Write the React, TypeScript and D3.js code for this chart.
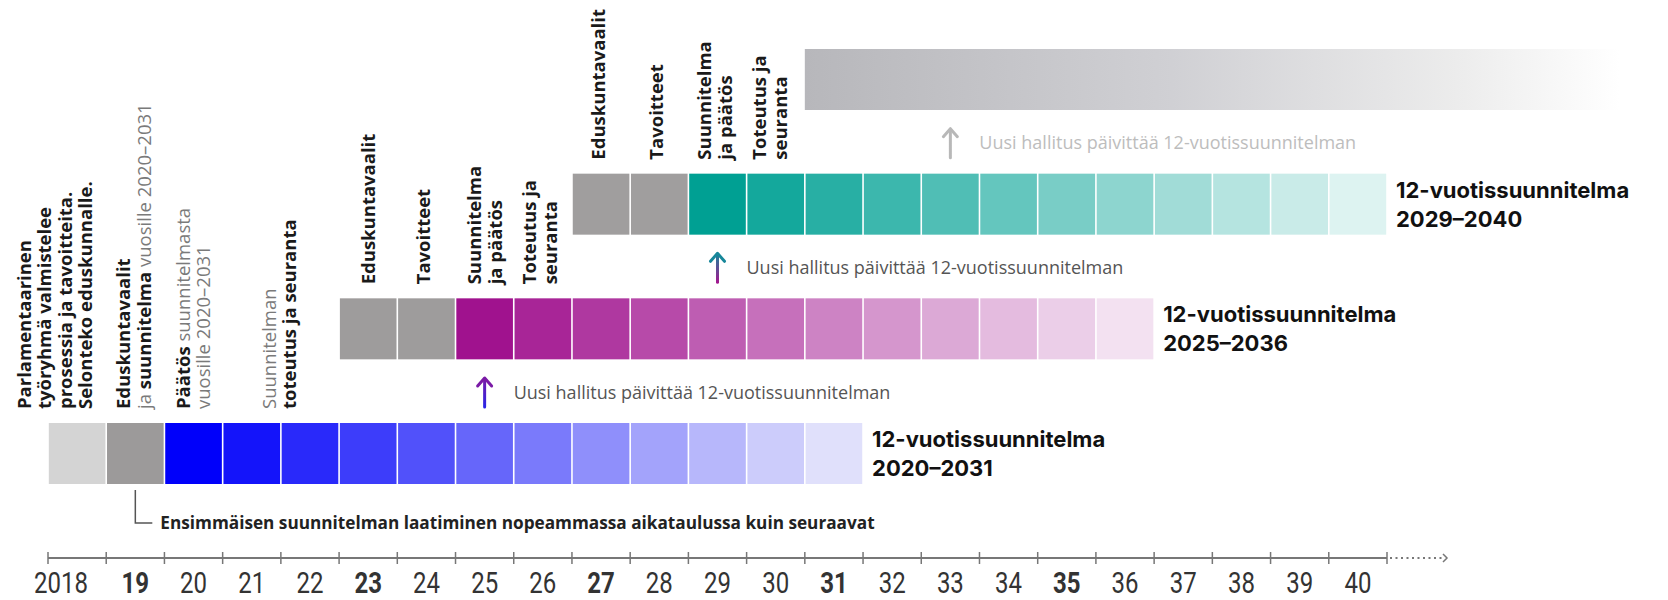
import React from "react";
import * as d3 from "d3";

// ---------- data ----------
const yearLabels = ["2018","19","20","21","22","23","24","25","26","27","28","29","30","31","32","33","34","35","36","37","38","39","40"];
const boldYearLabels = ["19","23","27","31","35"];
const firstYear = 2018;
const lastAxisYear = 2041;

const planTitles = ["12-vuotissuunnitelma","12-vuotissuunnitelma","12-vuotissuunnitelma"];
const planPeriods = ["2020–2031","2025–2036","2029–2040"];
const planPrepYears = [[2018,2019],[2023,2024],[2027,2028]];
const planStartYears = [2020,2025,2029];
const planLengths = [12,12,12];

const futureStartYear = 2031;
const futureEndYear = 2045;

const updateYears = [2025, 2029, 2033];
const updateText = "Uusi hallitus päivittää 12-vuotissuunnitelman";
const noteYear = 2019.5;
const noteText = "Ensimmäisen suunnitelman laatiminen nopeammassa aikataulussa kuin seuraavat";

// segments: [text, bold]
type Seg = [string, boolean];
const phaseLabels: { row: number; year: number; lines: Seg[][] }[] = [
  { row: 0, year: 2018.12, lines: [
    [["Parlamentaarinen", true]],
    [["työryhmä valmistelee", true]],
    [["prosessia ja tavoitteita.", true]],
    [["Selonteko eduskunnalle.", true]],
  ]},
  { row: 0, year: 2019.47, lines: [
    [["Eduskuntavaalit", true]],
    [["ja ", false], ["suunnitelma", true], [" vuosille 2020–2031", false]],
  ]},
  { row: 0, year: 2020.5, lines: [
    [["Päätös", true], [" suunnitelmasta", false]],
    [["vuosille 2020–2031", false]],
  ]},
  { row: 0, year: 2021.97, lines: [
    [["Suunnitelman", false]],
    [["toteutus ja seuranta", true]],
  ]},
  { row: 1, year: 2023.5, lines: [[["Eduskuntavaalit", true]]] },
  { row: 1, year: 2024.45, lines: [[["Tavoitteet", true]]] },
  { row: 1, year: 2025.5, lines: [[["Suunnitelma", true]], [["ja päätös", true]]] },
  { row: 1, year: 2026.45, lines: [[["Toteutus ja", true]], [["seuranta", true]]] },
  { row: 2, year: 2027.45, lines: [[["Eduskuntavaalit", true]]] },
  { row: 2, year: 2028.45, lines: [[["Tavoitteet", true]]] },
  { row: 2, year: 2029.45, lines: [[["Suunnitelma", true]], [["ja päätös", true]]] },
  { row: 2, year: 2030.4, lines: [[["Toteutus ja", true]], [["seuranta", true]]] },
];

// ---------- styles ----------
const prepColors = [["#d4d4d4", "#9c9a9a"], ["#9e9c9c", "#9e9c9c"], ["#a09e9e", "#a09e9e"]];
const planColorRanges = [["#0000fa", "#e0e0fb"], ["#a0128e", "#f3e1f1"], ["#00a093", "#ddf3f1"]];
const arrowColors = [["#7a1aa6", "#2a24e6"], ["#17879a", "#a2178f"], ["#b8b8b8", "#b8b8b8"]];
const arrowTextColors = ["#555", "#555", "#bdbdbd"];

const W = 1668, H = 600;
const LABEL_FONT = "'Open Sans', 'DejaVu Sans', sans-serif";

export default function App() {
  const x = d3.scaleLinear().domain([firstYear, lastAxisYear]).range([48, 1387]);
  const rowY = d3.scaleLinear().domain([0, 3]).range([423, 49]);
  const barH = 61;
  const axisY = 558;
  const step = x(firstYear + 1) - x(firstYear);

  const ticks = d3.range(firstYear, lastAxisYear + 1);

  return (
    <svg width={W} height={H} style={{ position: "absolute", left: 0, top: 0, background: "#fff" }}>
      <defs>
        <linearGradient id="fade" x1="0" x2="1" y1="0" y2="0">
          <stop offset="0%" stopColor="#b7b7bb" />
          <stop offset="45%" stopColor="#d0d0d4" />
          <stop offset="80%" stopColor="#ececec" />
          <stop offset="100%" stopColor="#ffffff" />
        </linearGradient>
        {updateYears.map((yr, i) => {
          const bottom = rowY(i) - 16;
          const top = bottom - 29;
          return (
            <linearGradient key={i} id={`arr${i}`} gradientUnits="userSpaceOnUse" x1="0" x2="0" y1={top} y2={bottom}>
              <stop offset="0%" stopColor={arrowColors[i][0]} />
              <stop offset="100%" stopColor={arrowColors[i][1]} />
            </linearGradient>
          );
        })}
      </defs>

      {/* future gradient bar */}
      <rect x={x(futureStartYear)} y={rowY(3)} width={x(futureEndYear) - x(futureStartYear)} height={barH} fill="url(#fade)" />

      {/* plan rows */}
      {planStartYears.map((start, p) => {
        const top = rowY(p);
        const color = d3.interpolateRgb(planColorRanges[p][0], planColorRanges[p][1]);
        const planYears = d3.range(start, start + planLengths[p]);
        const endX = x(start + planLengths[p]);
        return (
          <g key={p}>
            {planPrepYears[p].map((yr, k) => (
              <rect key={"p" + k} x={x(yr) + 0.8} y={top} width={step - 1.6} height={barH} fill={prepColors[p][k]} />
            ))}
            {planYears.map((yr, k) => (
              <rect key={k} x={x(yr) + 0.8} y={top} width={step - 1.6} height={barH} fill={color(k / (planLengths[p] - 1))} />
            ))}
            <text x={endX + 9} y={top + 24} fontFamily="Inter, 'Open Sans', sans-serif" fontWeight={700} fontSize={22} fill="#111">{planTitles[p]}</text>
            <text x={endX + 9} y={top + 53} fontFamily="Inter, 'Open Sans', sans-serif" fontWeight={700} fontSize={22} fill="#111">{planPeriods[p]}</text>
          </g>
        );
      })}

      {/* vertical phase labels */}
      {phaseLabels.map((lab, i) => {
        const bottom = rowY(lab.row) - 14;
        const cx = x(lab.year);
        const n = lab.lines.length;
        const lh = 20.5;
        return (
          <g key={i} transform={`translate(${cx},${bottom}) rotate(-90)`}>
            {lab.lines.map((line, li) => (
              <text key={li} x={0} y={(li - (n - 1) / 2) * lh} dy="0.36em" fontFamily={LABEL_FONT} fontSize={18.5}>
                {line.map((seg, si) => (
                  <tspan key={si} fontWeight={seg[1] ? 700 : 400} fill={seg[1] ? "#1a1a1a" : "#7a7a7a"}>{seg[0]}</tspan>
                ))}
              </text>
            ))}
          </g>
        );
      })}

      {/* update arrows */}
      {updateYears.map((yr, i) => {
        const bottom = rowY(i) - 16;
        const top = bottom - 29;
        const cx = x(yr + 0.5);
        return (
          <g key={i}>
            <path d={`M${cx},${bottom} V${top + 1}`} stroke={`url(#arr${i})`} strokeWidth={3} fill="none" strokeLinecap="round" />
            <path d={`M${cx - 7},${top + 8} L${cx},${top} L${cx + 7},${top + 8}`} stroke={arrowColors[i][0]} strokeWidth={3} fill="none" strokeLinecap="round" strokeLinejoin="round" />
            <text x={cx + 29} y={(top + bottom) / 2 + 6} fontFamily={LABEL_FONT} fontSize={18} fill={arrowTextColors[i]}>{updateText}</text>
          </g>
        );
      })}

      {/* note bracket */}
      <path d={`M${x(noteYear)},${rowY(0) + barH + 6} V${523} H${x(noteYear) + 17}`} stroke="#555" strokeWidth={1.5} fill="none" />
      <text x={x(noteYear) + 25} y={529} fontFamily={LABEL_FONT} fontWeight={700} fontSize={17.2} fill="#222">{noteText}</text>

      {/* axis */}
      <line x1={x(firstYear)} x2={x(lastAxisYear)} y1={axisY} y2={axisY} stroke="#777" strokeWidth={2} />
      {ticks.map((t) => (
        <line key={t} x1={x(t)} x2={x(t)} y1={axisY - 6} y2={axisY + 6} stroke="#777" strokeWidth={1.5} />
      ))}
      <line x1={x(lastAxisYear) + 3} x2={x(lastAxisYear) + 55} y1={axisY} y2={axisY} stroke="#777" strokeWidth={2} strokeDasharray="2 3.5" />
      <path d={`M${x(lastAxisYear) + 56},${axisY - 4} L${x(lastAxisYear) + 60},${axisY} L${x(lastAxisYear) + 56},${axisY + 4}`} stroke="#777" strokeWidth={1.5} fill="none" />
      {yearLabels.map((lab, i) => {
        const cx = i === 0 ? x(firstYear) + 13 : x(firstYear + i + 0.5);
        return (
          <text key={lab} transform={`translate(${cx},${593}) scale(0.8,1)`} textAnchor="middle"
            fontFamily="Roboto, 'Open Sans', sans-serif" fontSize={30} fontWeight={boldYearLabels.includes(lab) ? 700 : 400} fill="#333">
            {lab}
          </text>
        );
      })}
    </svg>
  );
}
